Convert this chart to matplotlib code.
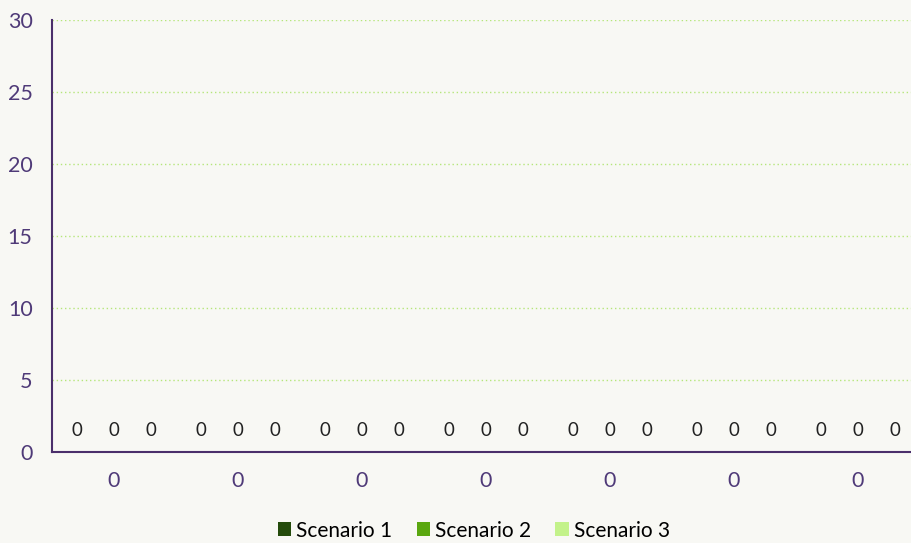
import matplotlib.pyplot as plt
import numpy as np

categories = ["0", "0", "0", "0", "0", "0", "0"]
series_names = ["Scenario 1", "Scenario 2", "Scenario 3"]
scenario_1 = [0, 0, 0, 0, 0, 0, 0]
scenario_2 = [0, 0, 0, 0, 0, 0, 0]
scenario_3 = [0, 0, 0, 0, 0, 0, 0]
y_ticks = [0, 5, 10, 15, 20, 25, 30]

colors = ["#244b0b", "#5aa70f", "#c3f28a"]
axis_color = "#4b2f6b"
label_color = "#4f3a78"
bg = "#f8f8f4"

plt.rcParams["font.family"] = ["Lato", "DejaVu Sans"]

fig = plt.figure(figsize=(9.12, 5.43), dpi=100, facecolor=bg)
ax = fig.add_axes([52 / 912, 91 / 543, 860 / 912, 432 / 543])
ax.set_facecolor(bg)

x = np.arange(len(categories))
width = 0.298
for i, (name, vals) in enumerate(zip(series_names, [scenario_1, scenario_2, scenario_3])):
    bars = ax.bar(x + (i - 1) * width, vals, width, color=colors[i], label=name)
    ax.bar_label(bars, labels=[str(v) for v in vals], padding=9, fontsize=13.5, color="#222222")

ax.set_xlim(-0.5, 6.435)
ax.set_ylim(0, 30)
ax.set_yticks(y_ticks)
ax.set_xticks(x)
ax.set_xticklabels(categories)
ax.tick_params(axis="both", length=0, labelsize=15.5, labelcolor=label_color)
ax.tick_params(axis="x", pad=14)
ax.tick_params(axis="y", pad=14)
ax.grid(axis="y", color="#b5e67a", linestyle=(0, (1, 2)), linewidth=1)
ax.set_axisbelow(True)
for s in ["top", "right"]:
    ax.spines[s].set_visible(False)
for s in ["left", "bottom"]:
    ax.spines[s].set_color(axis_color)
    ax.spines[s].set_linewidth(1.5)

fig.legend(loc="lower center", bbox_to_anchor=(474 / 912, -0.03), ncol=3, frameon=False,
           fontsize=15, handlelength=0.65, handleheight=0.65, handletextpad=0.25,
           columnspacing=1.15)

fig.savefig("out.png", dpi=100, facecolor=bg)
